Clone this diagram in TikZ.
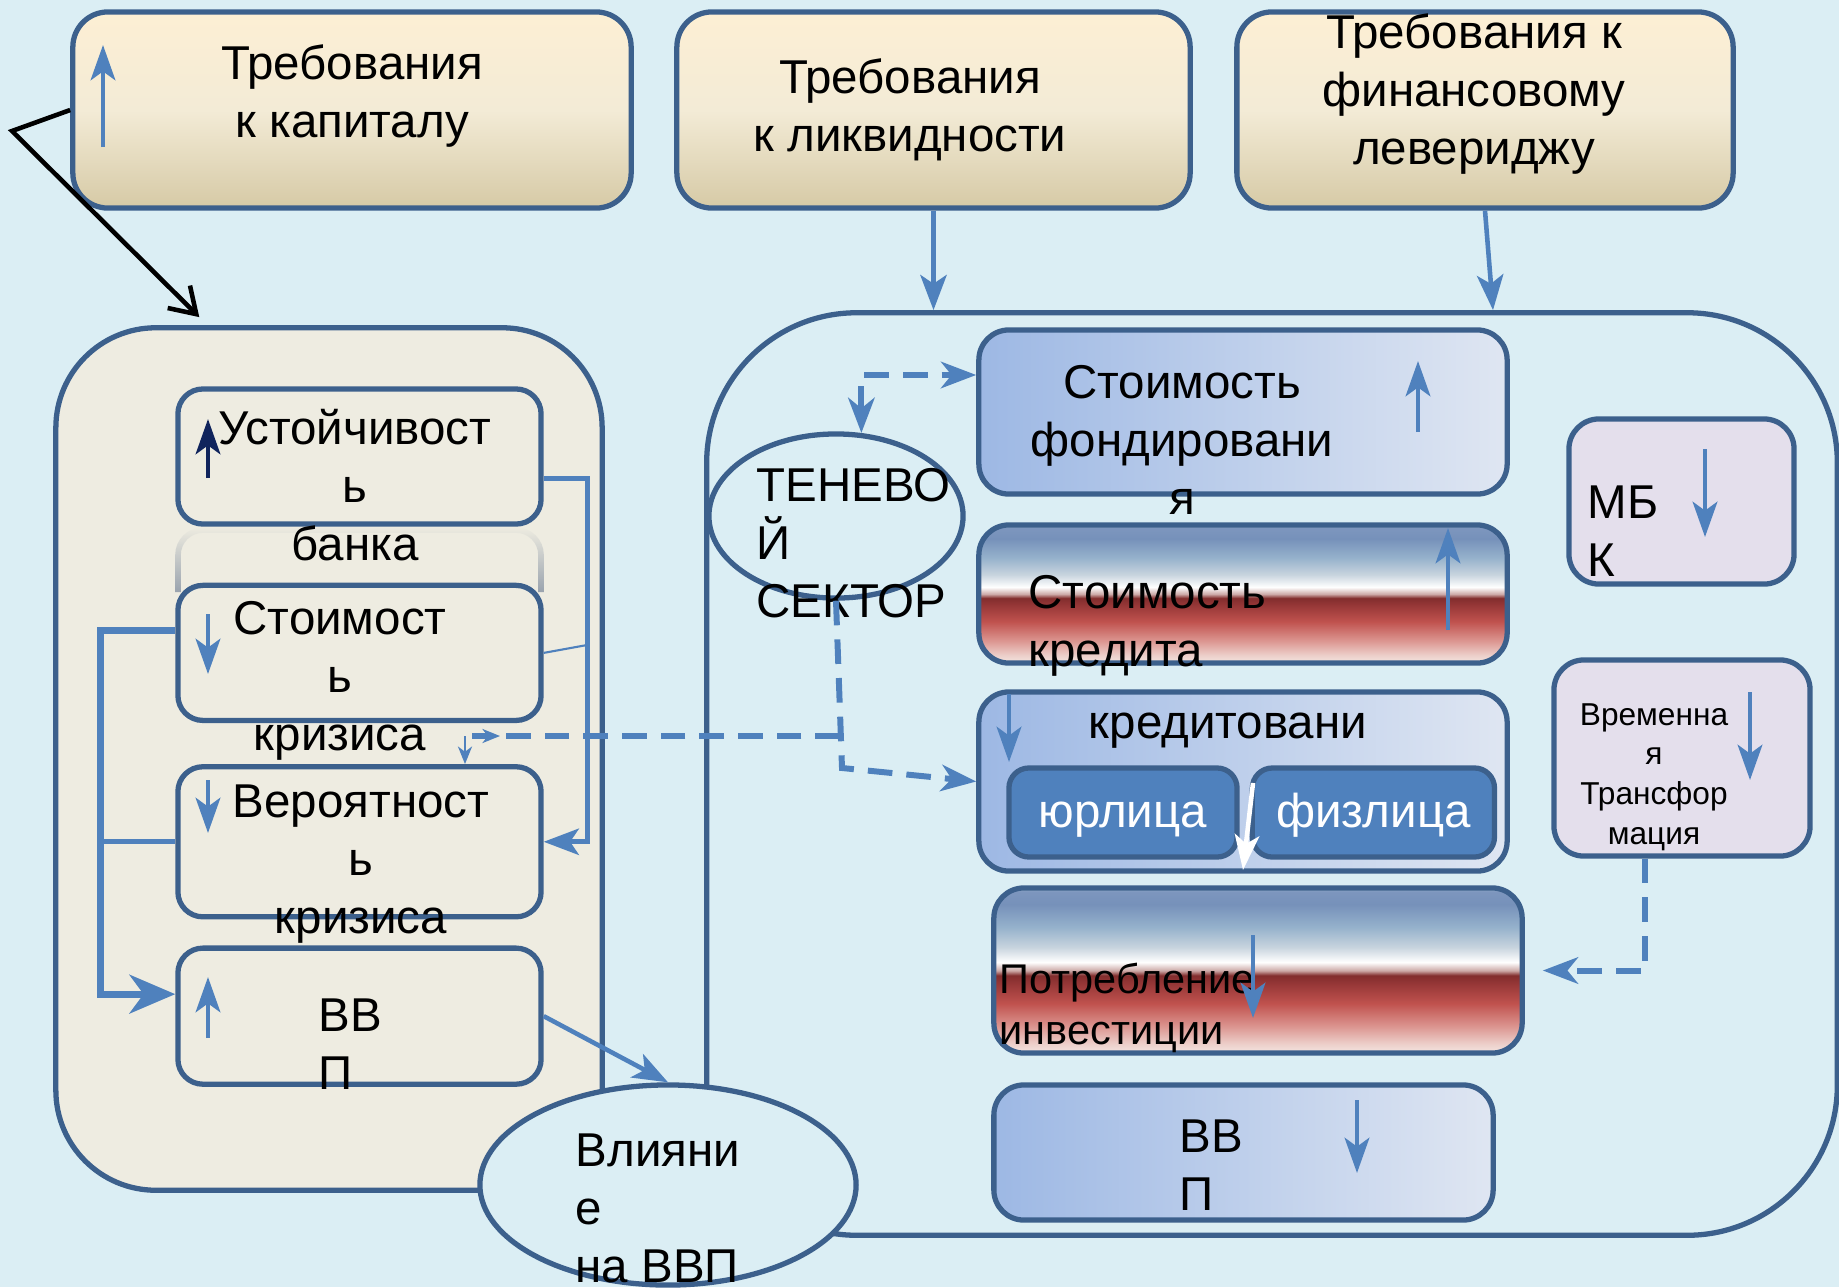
\documentclass[tikz,border=0pt]{standalone}
\usepackage{fontspec}
\setmainfont{Liberation Sans}
\usepackage{tikz}
\usetikzlibrary{arrows.meta,positioning,shapes.geometric,fadings}

\definecolor{bgblue}{RGB}{219,238,244}
\definecolor{rimblue}{RGB}{60,96,140}
\definecolor{arrowblue}{RGB}{79,129,189}
\definecolor{navy}{RGB}{16,36,92}
\definecolor{beige}{RGB}{238,236,225}
\definecolor{creamtop}{RGB}{253,239,212}
\definecolor{creammid}{RGB}{243,235,214}
\definecolor{tanbot}{RGB}{214,202,166}
\definecolor{bluel}{RGB}{157,184,228}
\definecolor{bluer}{RGB}{223,230,242}
\definecolor{lavender}{RGB}{228,223,236}
\definecolor{rimgrey}{RGB}{150,160,172}
\definecolor{rbA}{RGB}{244,230,226}
\definecolor{rbB}{RGB}{236,205,200}
\definecolor{rbC}{RGB}{220,150,145}
\definecolor{rbD}{RGB}{192,82,78}
\definecolor{rbE}{RGB}{150,55,55}
\definecolor{rbF}{RGB}{130,45,45}
\definecolor{rbG}{RGB}{205,170,168}
\definecolor{rbH}{RGB}{200,212,222}
\definecolor{rbI}{RGB}{150,178,204}
\definecolor{rbJ}{RGB}{118,145,186}
\definecolor{rbK}{RGB}{125,150,190}
\definecolor{rbL}{RGB}{175,198,214}

\pgfdeclareverticalshading{redbar}{100bp}{color(0bp)=(rbA); color(25bp)=(rbA);
  color(28bp)=(rbB); color(33bp)=(rbC); color(40bp)=(rbD); color(46bp)=(rbE);
  color(48.5bp)=(rbF); color(50bp)=(rbG); color(52.5bp)=(white); color(57bp)=(rbH);
  color(63bp)=(rbI); color(70bp)=(rbJ); color(74bp)=(rbK); color(75bp)=(rbL);
  color(100bp)=(rbL)}

\newcommand\bigtxt{\fontsize{13.5pt}{16.5pt}\selectfont}
\newcommand\midtxt{\fontsize{11.8pt}{14.5pt}\selectfont}
\newcommand\smalltxt{\fontsize{9pt}{11.3pt}\selectfont}

\tikzset{
  topbox/.style={rectangle, draw=rimblue, line width=1.5pt, rounded corners=0.35cm,
    top color=creamtop, bottom color=tanbot, middle color=creammid, inner sep=0pt},
  bigframe/.style={rectangle, draw=rimblue, line width=1.5pt, inner sep=0pt},
  leftbox/.style={rectangle, draw=rimblue, line width=1.5pt, rounded corners=0.25cm,
    fill=beige, minimum width=3.63cm, inner sep=0pt},
  bluebox/.style={rectangle, draw=rimblue, line width=1.5pt, rounded corners=0.3cm,
    left color=bluel, right color=bluer, inner sep=0pt},
  redbox/.style={rectangle, draw=rimblue, line width=1.5pt, rounded corners=0.3cm,
    shade, shading=redbar, inner sep=0pt},
  lilacbox/.style={rectangle, draw=rimblue, line width=1.5pt, rounded corners=0.3cm,
    fill=lavender, inner sep=0pt},
  subbox/.style={rectangle, draw=rimblue, line width=1.5pt, rounded corners=0.2cm,
    fill=arrowblue, text=white, font=\bigtxt, inner sep=0pt,
    text height=0.85em, text depth=0pt},
  oval/.style={ellipse, draw=rimblue, line width=1.5pt, inner sep=0pt},
  txt/.style={font=\bigtxt, inner sep=0pt, align=center}
}
\tikzset{
  link/.style={draw=arrowblue, line width=1.3pt, -{Stealth[length=10pt,width=7.5pt,inset=2.5pt]}},
  boldlink/.style={draw=arrowblue, line width=2pt, -{Stealth[length=13pt,width=11pt,inset=4pt]}},
  plainlink/.style={draw=arrowblue, line width=1.3pt},
  hairlink/.style={draw=arrowblue, line width=0.6pt},
  dashlink/.style={draw=arrowblue, line width=1.7pt, dash pattern=on 7pt off 4pt},
  dashtip/.style={-{Stealth[length=10pt,width=7.5pt,inset=3pt]}},
  thinmark/.style={draw=arrowblue, line width=0.7pt, -{Stealth[length=5pt,width=4pt,inset=1.5pt]}},
  blacklink/.style={draw=black, line width=1.3pt, -{Straight Barb[length=7pt,width=9pt]}},
  marker/.style={draw=arrowblue, line width=1.3pt, -{Stealth[length=10pt,width=7pt,inset=2.5pt]}}
}

\begin{document}
\begin{tikzpicture}[x=0.01cm,y=-0.01cm]
\useasboundingbox (0,0) rectangle (1839,1287);
\fill[bgblue] (0,0) rectangle (1839,1287);

\node[topbox, minimum width=5.58cm, minimum height=1.96cm] (tb1) at (352,110) {};
\node[topbox, minimum width=5.13cm, minimum height=1.96cm] (tb2) at (933.5,110) {};
\node[topbox, minimum width=4.96cm, minimum height=1.96cm] (tb3) at (1485,110) {};

\node[txt] (tb1t) at (352,96) {Требования\\к капиталу};
\node[txt] (tb2t) at (910,110) {Требования\\к ликвидности};
\node[txt] (tb3t) at (1474,94) {Требования к\\финансовому\\левериджу};

\node[bigframe, fill=beige, rounded corners=1cm, minimum width=5.46cm,
  minimum height=8.62cm] (lcont) at (329,759) {};
\node[bigframe, rounded corners=1.5cm, minimum width=11.3cm,
  minimum height=9.22cm] (rcont) at (1272,774) {};

\draw[rimgrey, line width=1.6pt, rounded corners=0.25cm, path fading=north]
  (178,592) -- (178,530) -- (541,530) -- (541,592);

\node[leftbox, minimum height=1.35cm] (b1) at (359.5,456.5) {};
\node[leftbox, minimum height=1.35cm, below=0.56cm of b1] (b2) {};
\node[leftbox, minimum height=1.50cm, below=0.41cm of b2] (b3) {};
\node[leftbox, minimum height=1.36cm, below=0.26cm of b3] (b4) {};

\node[bluebox, minimum width=5.28cm, minimum height=1.64cm] (r1) at (1243,412) {};
\node[redbox, minimum width=5.28cm, minimum height=1.38cm] (r2) at (1243,594) {};
\node[bluebox, minimum width=5.28cm, minimum height=1.79cm] (r3) at (1243,781.5) {};
\node[subbox, minimum width=2.28cm, minimum height=0.89cm] (jur) at (1123,812.5) {юрлица};
\node[subbox, minimum width=2.42cm, minimum height=0.89cm, right=0.1cm of jur] (fiz) {физлица};
\node[redbox, minimum width=5.28cm, minimum height=1.65cm] (r4) at (1258,970.5) {};
\node[bluebox, minimum width=4.99cm, minimum height=1.35cm] (r5) at (1243.5,1152.5) {};
\node[lilacbox, minimum width=2.25cm, minimum height=1.65cm] (mbk) at (1681.5,501.5) {};
\node[lilacbox, minimum width=2.56cm, minimum height=1.96cm] (vt) at (1682,758) {};
\node[oval, minimum width=2.54cm, minimum height=1.64cm] (ten) at (836,516) {};

\node[txt] (b1t) at (355,485) {Устойчивост\\ь\\банка};
\node[txt] (b2t) at (340,681) {Стоимост\\ь\\кризиса};
\node[txt] (b3t) at (361,864) {Вероятност\\ь\\кризиса};
\node[txt, anchor=west, align=left] (b4t) at (318,1044) {ВВ\\П};
\node[txt, anchor=west, align=left] (tent) at (756,543) {ТЕНЕВО\\Й\\СЕКТОР};
\node[txt] (r1t) at (1182,440) {Стоимость\\фондировани\\я};
\node[txt, anchor=west, align=left] (r2t) at (1028,626) {Стоимость\\кредита};
\node[txt] (r3t) at (1228,731) {кредитовани};
\node[txt, anchor=west, align=left, font=\midtxt] (r4t) at (999,1008) {Потребление\\инвестиции};
\node[txt, anchor=west, align=left] (r5t) at (1179,1165) {ВВ\\П};
\node[txt, anchor=west, align=left] (mbkt) at (1587,531) {МБ\\К};
\node[txt, font=\smalltxt] (vtt) at (1654,777) {Временна\\я\\Трансфор\\мация};

\draw[marker] (103,147) -- (103,45);
\draw[marker, navy] (208,478) -- (208,419);
\draw[marker] (208,614) -- (208,674);
\draw[marker] (208,780) -- (208,833);
\draw[marker] (208,1038) -- (208,977);
\draw[marker] (1418,432) -- (1418,361);
\draw[marker] (1448,630) -- (1448,528);
\draw[marker] (1009,694) -- (1009,762);
\draw[marker, white] (1253,783) -- (1243,870);
\draw[marker] (1253,935) -- (1253,1018);
\draw[marker] (1357,1100) -- (1357,1173);
\draw[marker] (1705,449) -- (1705,537);
\draw[marker] (1750,692) -- (1750,780);

\node[oval, fill=bgblue, minimum width=3.76cm, minimum height=2cm] (vl) at (668,1185) {};
\node[txt, anchor=west, align=left] (vlt) at (575,1208) {Влияни\\е\\на ВВП};

\draw[link] (tb2.south) -- (tb2.south |- rcont.north);
\draw[link] (tb3.south) -- ([xshift=0.08cm]tb3.south |- rcont.north);
\coordinate (kink) at (12,131);
\draw[blacklink] (tb1.west) -- (kink) -- ([xshift=1.46cm,yshift=0.08cm]lcont.north west);

\draw[link] ([yshift=-0.22cm]b1.east) -- ++(44,0) |- (b3.east);
\draw[hairlink] (b2.east) -- ++(44,-8);
\draw[boldlink] ([yshift=0.22cm]b2.west) -- ++(-75,0) |- ([yshift=0.22cm]b4.west);
\draw[plainlink] (b3.west) -- ++(-75,0);
\draw[link] (b4.east) -- (vl.north);

\draw[dashlink, {Stealth[length=10pt,width=7.5pt,inset=3pt]}-{Stealth[length=10pt,width=7.5pt,inset=3pt]}]
  (ten.73) |- ([yshift=0.37cm]r1.west);
\coordinate (bend) at (842,768);
\draw[dashlink, dashtip] (ten.south) -- (bend) -- (r3.west);
\coordinate (split) at (840,736);
\coordinate (dashend) at (472,736);
\draw[dashlink] (split) -- (dashend);
\draw[thinmark] (dashend) -- ++(28,0);
\draw[thinmark] ([xshift=-0.07cm]dashend) -- ([xshift=-0.07cm]dashend |- b3.north);
\draw[dashlink, dashtip] ([xshift=-0.37cm]vt.south) |- ([xshift=0.18cm]r4.east);

\end{tikzpicture}
\end{document}
